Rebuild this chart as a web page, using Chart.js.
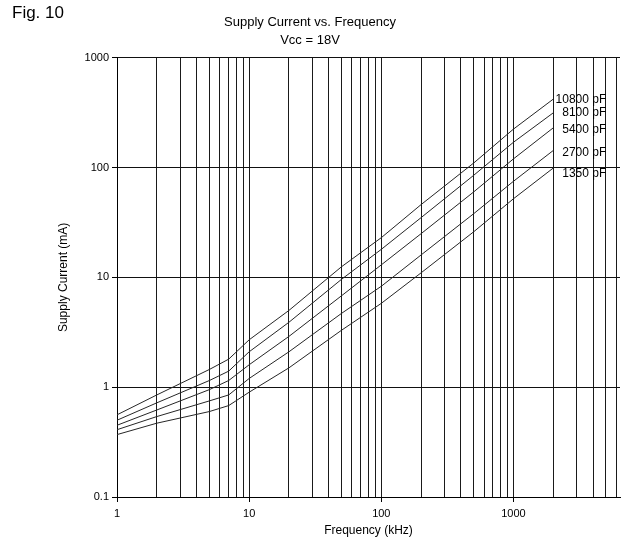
<!DOCTYPE html>
<html>
<head>
<meta charset="utf-8">
<script src="https://cdn.jsdelivr.net/npm/chart.js@4.4.0/dist/chart.umd.min.js"></script>
<style>
  body { margin: 0; background: #fff; }
  #wrap { position: relative; width: 631px; height: 551px; }
  #fig { position: absolute; left: 12px; top: 3px; font: 17px "Liberation Sans", Arial, sans-serif; color: #000; }
</style>
</head>
<body>
<div id="wrap">
  <canvas id="myChart" width="631" height="551"></canvas>
  <div id="fig">Fig. 10</div>
</div>
<script>
// frequency points (kHz) shared by all curves
var freqs = [1, 2, 5, 7, 10, 20, 50, 100, 200, 500, 1000, 2000];

// supply current (mA), one list per load capacitance
var capLabels = ['10800 pF', '8100 pF', '5400 pF', '2700 pF', '1350 pF'];
var i10800 = [0.56, 0.85, 1.45, 1.8, 2.7, 5.0, 12.5, 23, 46, 110, 224, 420];
var i8100  = [0.50, 0.72, 1.15, 1.4, 2.1, 3.9, 9.6, 18, 35, 85, 170, 315];
var i5400  = [0.45, 0.62, 0.95, 1.15, 1.6, 2.9, 6.8, 13, 25, 60, 120, 230];
var i2700  = [0.41, 0.54, 0.75, 0.85, 1.2, 2.1, 4.7, 8.3, 16, 38, 75, 143];
var i1350  = [0.37, 0.47, 0.60, 0.68, 0.9, 1.5, 3.3, 5.8, 11, 26, 52, 99];
var allCurrents = [i10800, i8100, i5400, i2700, i1350];

var yTickLabels = ['0.1', '1', '10', '100', '1000'];
var xTickLabels = ['1', '10', '100', '1000'];

// small nudges so each curve label sits where the original put it
var labelNudge = [1, 0, 2, 2, 6];

function isDecade(v) {
  var l = Math.log10(v);
  return Math.abs(l - Math.round(l)) < 1e-6;
}
function isWholeStep(v) {
  var e = Math.pow(10, Math.floor(Math.log10(v) + 1e-9));
  var s = v / e;
  return Math.abs(s - Math.round(s)) < 1e-6;
}
function decadeText(v, list) {
  for (var k = 0; k < list.length; k++)
    if (Math.abs(parseFloat(list[k]) - v) < 1e-9 * Math.max(1, v)) return list[k];
  return '';
}

var datasets = [];
for (var i = 0; i < allCurrents.length; i++) {
  var pts = [];
  for (var k = 0; k < freqs.length; k++) pts.push({ x: freqs[k], y: allCurrents[i][k] });
  datasets.push({
    label: capLabels[i],
    data: pts,
    showLine: true,
    borderColor: '#262626',
    borderWidth: 1,
    pointRadius: 0,
    tension: 0,
    fill: false
  });
}

// writes the capacitance next to the end of each curve
var curveLabels = {
  id: 'curveLabels',
  afterDatasetsDraw: function(chart) {
    var ctx = chart.ctx;
    ctx.save();
    ctx.font = '12px "Liberation Sans", Arial, sans-serif';
    ctx.fillStyle = '#000';
    ctx.textAlign = 'right';
    ctx.textBaseline = 'middle';
    for (var i = 0; i < chart.data.datasets.length; i++) {
      var meta = chart.getDatasetMeta(i);
      var last = meta.data[meta.data.length - 1];
      ctx.fillText(capLabels[i], last.x + 53, last.y + labelNudge[i]);
    }
    ctx.restore();
  }
};

Chart.defaults.font.family = '"Liberation Sans", Arial, sans-serif';
Chart.defaults.color = '#000';

var chart = new Chart(document.getElementById('myChart'), {
  type: 'scatter',
  data: { datasets: datasets },
  plugins: [curveLabels],
  options: {
    responsive: false,
    animation: false,
    layout: { padding: { left: 0, right: 11, top: 0, bottom: 0 } },
    plugins: {
      legend: { display: false },
      tooltip: { enabled: false },
      title: {
        display: true,
        text: ['Supply Current vs. Frequency', 'Vcc = 18V'],
        font: { size: 13, weight: 'normal', lineHeight: 1.36 },
        color: '#000',
        padding: { top: 14, bottom: 8.4 }
      }
    },
    scales: {
      x: {
        type: 'logarithmic',
        min: 1,
        max: 6400,
        afterFit: function(s) { s.height = 54; },
        border: { color: '#000', width: 1 },
        grid: {
          lineWidth: 1,
          tickLength: 5,
          color: function(c) {
            if (!c.tick) return 'rgba(0,0,0,0)';
            return isWholeStep(c.tick.value) ? '#1a1a1a' : 'rgba(0,0,0,0)';
          },
          tickColor: function(c) {
            if (!c.tick) return 'rgba(0,0,0,0)';
            return isDecade(c.tick.value) ? '#000' : 'rgba(0,0,0,0)';
          }
        },
        ticks: {
          autoSkip: false,
          maxRotation: 0,
          padding: 5,
          font: { size: 11 },
          callback: function(v) { return isDecade(v) ? decadeText(v, xTickLabels) : ''; }
        },
        title: {
          display: true,
          text: 'Frequency (kHz)',
          font: { size: 12 },
          padding: { top: 0, bottom: 13 }
        }
      },
      y: {
        type: 'logarithmic',
        min: 0.1,
        max: 1000,
        afterFit: function(s) { s.width = 117; },
        border: { color: '#000', width: 1 },
        grid: {
          lineWidth: 1,
          tickLength: 5,
          color: function(c) {
            if (!c.tick) return 'rgba(0,0,0,0)';
            return isDecade(c.tick.value) ? '#111' : 'rgba(0,0,0,0)';
          },
          tickColor: function(c) {
            if (!c.tick) return 'rgba(0,0,0,0)';
            return isDecade(c.tick.value) ? '#000' : 'rgba(0,0,0,0)';
          }
        },
        ticks: {
          autoSkip: false,
          padding: 3,
          font: { size: 11 },
          callback: function(v) { return isDecade(v) ? decadeText(v, yTickLabels) : ''; }
        },
        title: {
          display: true,
          text: 'Supply Current (mA)',
          font: { size: 12 },
          padding: { top: 56, bottom: 0 }
        }
      }
    }
  }
});
</script>
</body>
</html>
